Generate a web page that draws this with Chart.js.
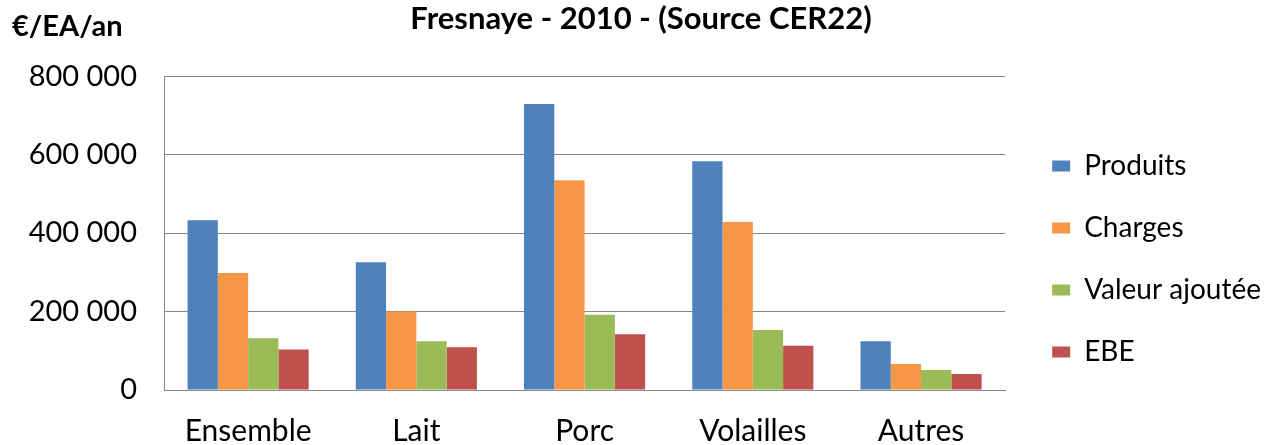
<!DOCTYPE html>
<html>
<head>
<meta charset="utf-8">
<script src="https://cdn.jsdelivr.net/npm/chart.js@4.4.1/dist/chart.umd.min.js"></script>
<style>
  html, body { margin: 0; padding: 0; background: #fff; }
  #wrap { width: 1274px; height: 445px; }
</style>
</head>
<body>
<div id="wrap"><canvas id="chart"></canvas></div>
<script>
// données (€/EA/an)
const categories = ["Ensemble", "Lait", "Porc", "Volailles", "Autres"];
const produits = [433000, 326000, 729000, 583000, 124000];
const charges = [298000, 200000, 535000, 428000, 66000];
const valeurAjoutee = [132000, 124000, 192000, 153000, 51000];
const ebe = [103000, 109000, 142000, 113000, 41000];
const yTicks = [0, 200000, 400000, 600000, 800000];

const FONT = "Lato, 'Noto Sans', sans-serif";

// libellé d'unité en haut à gauche
const unitLabel = {
  id: 'unitLabel',
  afterDraw(chart) {
    const ctx = chart.ctx;
    ctx.save();
    ctx.font = "bold 29px " + FONT;
    ctx.fillStyle = '#000';
    ctx.textBaseline = 'alphabetic';
    ctx.fillText('€/EA/an', 12, 36);
    ctx.restore();
  }
};

// décale la légende vers la droite (espace entre graphe et légende)
const legendShift = {
  id: 'legendShift',
  afterLayout(chart) {
    const lg = chart.legend;
    if (lg) { lg.left += 13; lg.right += 13; }
  }
};

const fmt = v => String(v).replace(/\B(?=(\d{3})+(?!\d))/g, ' ');

new Chart(document.getElementById('chart'), {
  type: 'bar',
  data: {
    labels: categories,
    datasets: [
      { label: 'Produits', data: produits, backgroundColor: '#4F81BD' },
      { label: 'Charges', data: charges, backgroundColor: '#F79646' },
      { label: 'Valeur ajoutée', data: valeurAjoutee, backgroundColor: '#9BBB59' },
      { label: 'EBE', data: ebe, backgroundColor: '#C0504D' }
    ]
  },
  options: {
    responsive: true,
    maintainAspectRatio: false,
    animation: false,
    datasets: { bar: { categoryPercentage: 0.72, barPercentage: 1.0 } },
    layout: { padding: { left: 24, right: 16, top: 0, bottom: 0 } },
    plugins: {
      title: {
        display: true,
        text: 'Fresnaye - 2010 - (Source CER22)',
        color: '#000',
        font: { family: FONT, size: 31, weight: 'bold' },
        padding: { top: 0, bottom: 39 }
      },
      legend: {
        position: 'right',
        title: { display: true, text: ' ', font: { size: 10, lineHeight: 1 }, padding: { top: 63, bottom: 0 } },
        labels: {
          color: '#000',
          font: { family: FONT, size: 28 },
          boxWidth: 18,
          boxHeight: 11,
          padding: 34
        }
      },
      tooltip: { enabled: false }
    },
    scales: {
      x: {
        grid: { display: false, drawTicks: false },
        border: { display: true, color: '#878787', width: 1 },
        ticks: { color: '#000', font: { family: FONT, size: 30 }, padding: 23, maxRotation: 0, minRotation: 0 },
        afterFit: s => { s.height = 55; }
      },
      y: {
        min: 0,
        max: 800000,
        afterBuildTicks: s => { s.ticks = yTicks.map(v => ({ value: v })); },
        grid: { color: '#878787', lineWidth: 1, drawTicks: false },
        border: { display: true, color: '#878787', width: 1 },
        ticks: { color: '#000', font: { family: FONT, size: 29 }, padding: 27, callback: v => fmt(v) },
        afterFit: s => { s.width = 140; }
      }
    }
  },
  plugins: [unitLabel, legendShift]
});
</script>
</body>
</html>
